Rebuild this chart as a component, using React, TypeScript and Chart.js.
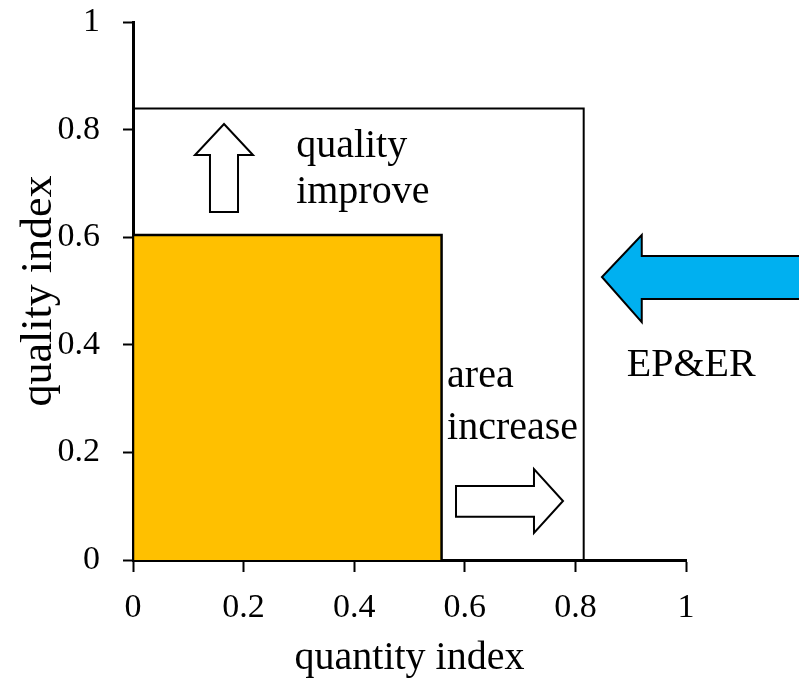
import React, { useEffect, useRef } from "react";
import { Chart, registerables } from "chart.js";

Chart.register(...registerables);

const FONT = '"Liberation Serif", "Times New Roman", Times, serif';

// Axes
const axisMin = 0;
const axisMax = 1;
const tickStep = 0.2;
const xTitle = "quantity index";
const yTitle = "quality index";

// Current state (orange area)
const currentQuantity = 0.558;
const currentQuality = 0.604;

// Target state (outer box)
const targetQuantity = 0.815;
const targetQuality = 0.839;

// Arrow outlines in data units
const upArrowX = [0.1392, 0.1392, 0.1121, 0.1646, 0.217, 0.1899, 0.1899];
const upArrowY = [0.6468, 0.7528, 0.7528, 0.8104, 0.7528, 0.7528, 0.6468];

const rightArrowX = [0.5841, 0.7251, 0.7251, 0.7776, 0.7251, 0.7251, 0.5841];
const rightArrowY = [0.1375, 0.1375, 0.1691, 0.1097, 0.0502, 0.0805, 0.0805];

const blueArrowX = [1.3, 0.92, 0.92, 0.848, 0.92, 0.92, 1.3];
const blueArrowY = [0.565, 0.565, 0.604, 0.526, 0.442, 0.485, 0.485];

// Annotation texts (lines) and anchors in data units
const improveLines = ["quality", "improve"];
const improveAnchorX = 0.295;
const improveBaselines = [0.749, 0.664];

const increaseLines = ["area", "increase"];
const increaseAnchorX = 0.568;
const increaseBaselines = [0.3216, 0.225];

const policyLabel = "EP&ER";
const policyAnchorX = 0.893;
const policyBaseline = 0.342;

const rectCorners = (qx: number, qy: number) => [
  { x: 0, y: 0 },
  { x: 0, y: qy },
  { x: qx, y: qy },
  { x: qx, y: 0 },
];

const overlayPlugin = {
  id: "overlay",
  afterDatasetsDraw(chart: any) {
    const { ctx, scales } = chart;
    const xs = scales.x;
    const ys = scales.y;
    const arrows = [
      { xv: upArrowX, yv: upArrowY, fill: "#ffffff" },
      { xv: rightArrowX, yv: rightArrowY, fill: "#ffffff" },
      { xv: blueArrowX, yv: blueArrowY, fill: "#00B0F0" },
    ];
    ctx.save();
    arrows.forEach((a) => {
      ctx.beginPath();
      a.xv.forEach((v, i) => {
        const px = xs.getPixelForValue(v);
        const py = ys.getPixelForValue(a.yv[i]);
        if (i === 0) ctx.moveTo(px, py);
        else ctx.lineTo(px, py);
      });
      ctx.closePath();
      ctx.fillStyle = a.fill;
      ctx.fill();
      ctx.lineWidth = 2;
      ctx.lineJoin = "miter";
      ctx.strokeStyle = "#000000";
      ctx.stroke();
    });

    ctx.fillStyle = "#000000";
    ctx.font = `40px ${FONT}`;
    ctx.textAlign = "left";
    ctx.textBaseline = "alphabetic";
    improveLines.forEach((t, i) => {
      ctx.fillText(t, xs.getPixelForValue(improveAnchorX), ys.getPixelForValue(improveBaselines[i]));
    });
    increaseLines.forEach((t, i) => {
      ctx.fillText(t, xs.getPixelForValue(increaseAnchorX), ys.getPixelForValue(increaseBaselines[i]));
    });
    ctx.fillText(policyLabel, xs.getPixelForValue(policyAnchorX), ys.getPixelForValue(policyBaseline));
    ctx.restore();
  },
};

export default function App() {
  const canvasRef = useRef<HTMLCanvasElement | null>(null);

  useEffect(() => {
    if (!canvasRef.current) return;
    const fmt = (v: any) => String(Math.round(Number(v) * 10) / 10);
    const chart = new Chart(canvasRef.current, {
      type: "line",
      data: {
        datasets: [
          {
            label: "current",
            data: rectCorners(currentQuantity, currentQuality),
            borderColor: "#000000",
            borderWidth: 2.5,
            backgroundColor: "#FFC000",
            fill: "origin",
            pointRadius: 0,
            tension: 0,
          },
          {
            label: "target",
            data: rectCorners(targetQuantity, targetQuality),
            borderColor: "#000000",
            borderWidth: 2,
            backgroundColor: "rgba(0,0,0,0)",
            fill: false,
            pointRadius: 0,
            tension: 0,
          },
        ],
      },
      options: {
        animation: false,
        responsive: true,
        maintainAspectRatio: false,
        layout: { padding: { top: 22, right: 113, left: 0, bottom: 0 } },
        plugins: {
          legend: { display: false },
          tooltip: { enabled: false },
        },
        scales: {
          x: {
            type: "linear",
            min: axisMin,
            max: axisMax,
            z: 1,
            ticks: {
              stepSize: tickStep,
              color: "#000000",
              font: { family: FONT, size: 34 },
              padding: 16,
              maxRotation: 0,
              callback: fmt,
            },
            grid: {
              drawOnChartArea: false,
              drawTicks: true,
              tickLength: 12,
              tickWidth: 2,
              tickColor: "#000000",
              color: "#000000",
            },
            border: { display: true, color: "#000000", width: 3 },
            title: {
              display: true,
              text: xTitle,
              color: "#000000",
              font: { family: FONT, size: 40 },
              padding: { top: 0, bottom: 2 },
            },
            afterFit: (s: any) => {
              s.height = 124;
              s.paddingLeft = 0;
              s.paddingRight = 0;
            },
          },
          y: {
            type: "linear",
            min: axisMin,
            max: axisMax,
            z: 1,
            ticks: {
              stepSize: tickStep,
              color: "#000000",
              font: { family: FONT, size: 34 },
              padding: 23,
              callback: fmt,
            },
            grid: {
              drawOnChartArea: false,
              drawTicks: true,
              tickLength: 10,
              tickWidth: 2,
              tickColor: "#000000",
              color: "#000000",
            },
            border: { display: true, color: "#000000", width: 3 },
            title: {
              display: true,
              text: yTitle,
              color: "#000000",
              font: { family: FONT, size: 44 },
              padding: { top: 13, bottom: 0 },
            },
            afterFit: (s: any) => {
              s.width = 133;
              s.paddingTop = 0;
              s.paddingBottom = 0;
            },
          },
        },
      },
      plugins: [overlayPlugin],
    });
    return () => chart.destroy();
  }, []);

  return (
    <div style={{ position: "absolute", left: 0, top: 0, width: 799, height: 684, background: "#ffffff" }}>
      <canvas ref={canvasRef} />
    </div>
  );
}
